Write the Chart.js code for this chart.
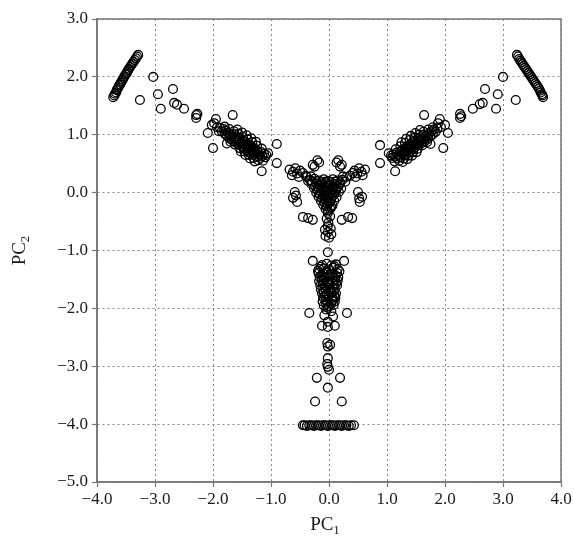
<!DOCTYPE html>
<html>
<head>
<meta charset="utf-8">
<script src="https://cdn.jsdelivr.net/npm/chart.js@4/dist/chart.umd.min.js"></script>
<style>
  body { margin: 0; background: #fff; }
  #wrap { width: 574px; height: 538px; }
</style>
</head>
<body>
<div id="wrap"><canvas id="pcaChart" width="574" height="538"></canvas></div>
<script>
// principal component scores, [PC1, PC2]
let leftLine = [
	[-3.72, 1.65], [-3.70, 1.68], [-3.69, 1.71], [-3.67, 1.73], [-3.66, 1.77], [-3.65, 1.79],
	[-3.63, 1.82], [-3.62, 1.85], [-3.60, 1.87], [-3.59, 1.90], [-3.57, 1.93], [-3.56, 1.95],
	[-3.54, 1.98], [-3.53, 2.01], [-3.51, 2.04], [-3.49, 2.06], [-3.48, 2.09], [-3.46, 2.12],
	[-3.45, 2.14], [-3.43, 2.17], [-3.41, 2.20], [-3.39, 2.23], [-3.37, 2.26], [-3.35, 2.29],
	[-3.33, 2.32], [-3.31, 2.35], [-3.29, 2.38]
];
let rightLine = [
	[3.24, 2.38], [3.26, 2.35], [3.28, 2.31], [3.30, 2.28], [3.32, 2.25], [3.34, 2.22],
	[3.36, 2.19], [3.38, 2.16], [3.40, 2.13], [3.42, 2.10], [3.44, 2.07], [3.46, 2.04],
	[3.48, 2.01], [3.50, 1.98], [3.52, 1.95], [3.54, 1.92], [3.56, 1.89], [3.58, 1.86],
	[3.60, 1.83], [3.62, 1.80], [3.64, 1.76], [3.65, 1.73], [3.67, 1.70], [3.68, 1.68], [3.69, 1.65]
];
let leftArm = [
	[-3.03, 2.00], [-3.26, 1.60], [-2.95, 1.70], [-2.90, 1.45], [-2.69, 1.79], [-2.67, 1.55],
	[-2.62, 1.52], [-2.50, 1.45], [-2.29, 1.34], [-2.29, 1.29], [-2.27, 1.36], [-1.95, 1.27],
	[-1.66, 1.34], [-2.09, 1.03], [-2.00, 0.77], [-2.02, 1.17], [-1.98, 1.20], [-1.93, 1.13],
	[-1.90, 1.06], [-0.90, 0.84], [-0.90, 0.51], [-1.16, 0.37], [-1.05, 0.68],
	[-1.88, 1.12], [-1.85, 1.06], [-1.82, 1.10], [-1.80, 1.02], [-1.78, 1.07], [-1.76, 0.98],
	[-1.74, 1.04], [-1.72, 0.95], [-1.70, 1.00], [-1.69, 0.92], [-1.67, 0.97], [-1.65, 0.89],
	[-1.64, 1.01], [-1.62, 0.93], [-1.60, 0.86], [-1.59, 0.97], [-1.57, 0.90], [-1.55, 0.83],
	[-1.54, 0.94], [-1.52, 0.87], [-1.50, 0.80], [-1.49, 0.91], [-1.47, 0.84], [-1.46, 0.76],
	[-1.45, 0.88], [-1.43, 0.80], [-1.42, 0.73], [-1.41, 0.85], [-1.39, 0.78], [-1.38, 0.70],
	[-1.37, 0.82], [-1.35, 0.75], [-1.34, 0.67], [-1.33, 0.79], [-1.31, 0.72], [-1.30, 0.65],
	[-1.28, 0.76], [-1.27, 0.69], [-1.25, 0.62], [-1.23, 0.72], [-1.21, 0.66], [-1.19, 0.60],
	[-1.17, 0.70], [-1.15, 0.63], [-1.12, 0.67], [-1.10, 0.61], [-1.08, 0.65], [-1.44, 0.82],
	[-1.40, 0.76], [-1.36, 0.78], [-1.48, 0.78], [-1.52, 0.84], [-1.32, 0.70], [-1.60, 0.92],
	[-1.80, 1.14], [-1.72, 1.10], [-1.64, 1.06], [-1.56, 1.01], [-1.48, 0.96], [-1.40, 0.92],
	[-1.32, 0.87], [-1.24, 0.81], [-1.16, 0.76], [-1.70, 0.88], [-1.62, 0.83], [-1.54, 0.77],
	[-1.46, 0.71], [-1.38, 0.65], [-1.30, 0.60], [-1.22, 0.56], [-1.14, 0.55],
	[-1.58, 1.09], [-1.50, 1.04], [-1.42, 0.99], [-1.34, 0.94], [-1.26, 0.88], [-1.52, 0.71],
	[-1.44, 0.65], [-1.36, 0.59], [-1.28, 0.54], [-1.76, 0.85]
];
let rightArm = [
	[3.00, 2.00], [2.69, 1.79], [2.91, 1.70], [3.22, 1.60], [2.88, 1.45], [2.60, 1.53],
	[2.65, 1.55], [2.48, 1.45], [2.26, 1.36], [2.26, 1.29], [2.28, 1.32], [1.64, 1.34],
	[1.91, 1.27], [2.00, 1.17], [2.05, 1.03], [1.97, 0.77], [1.93, 1.13], [1.88, 1.20],
	[0.88, 0.82], [0.88, 0.51], [1.14, 0.37], [1.03, 0.68],
	[1.87, 1.11], [1.84, 1.05], [1.81, 1.09], [1.79, 1.01], [1.77, 1.06], [1.75, 0.97],
	[1.73, 1.03], [1.71, 0.94], [1.69, 0.99], [1.68, 0.91], [1.66, 0.96], [1.64, 0.88],
	[1.63, 1.00], [1.61, 0.92], [1.59, 0.85], [1.58, 0.96], [1.56, 0.89], [1.54, 0.82],
	[1.53, 0.93], [1.51, 0.86], [1.49, 0.79], [1.48, 0.90], [1.46, 0.83], [1.45, 0.75],
	[1.44, 0.87], [1.42, 0.79], [1.41, 0.72], [1.40, 0.84], [1.38, 0.77], [1.37, 0.69],
	[1.36, 0.81], [1.34, 0.74], [1.33, 0.66], [1.32, 0.78], [1.30, 0.71], [1.29, 0.64],
	[1.27, 0.75], [1.26, 0.68], [1.24, 0.61], [1.22, 0.71], [1.20, 0.65], [1.18, 0.59],
	[1.16, 0.69], [1.14, 0.62], [1.11, 0.66], [1.09, 0.60], [1.07, 0.64], [1.43, 0.81],
	[1.39, 0.75], [1.35, 0.77], [1.47, 0.77], [1.51, 0.83], [1.31, 0.69], [1.59, 0.91],
	[1.79, 1.13], [1.71, 1.09], [1.63, 1.05], [1.55, 1.00], [1.47, 0.95], [1.39, 0.91],
	[1.31, 0.86], [1.23, 0.80], [1.15, 0.75], [1.69, 0.87], [1.61, 0.82], [1.53, 0.76],
	[1.45, 0.70], [1.37, 0.64], [1.29, 0.59], [1.21, 0.55], [1.13, 0.54],
	[1.57, 1.08], [1.49, 1.03], [1.41, 0.98], [1.33, 0.93], [1.25, 0.87], [1.51, 0.70],
	[1.43, 0.64], [1.35, 0.58], [1.27, 0.53], [1.75, 0.84]
];
let center = [
	[-0.33, 0.22], [-0.25, 0.24], [-0.17, 0.21], [-0.09, 0.23], [-0.01, 0.20], [0.07, 0.23],
	[0.15, 0.21], [0.23, 0.22], [-0.30, 0.15], [-0.22, 0.16], [-0.14, 0.14], [-0.06, 0.16],
	[0.02, 0.13], [0.10, 0.15], [0.18, 0.14], [-0.26, 0.08], [-0.18, 0.09], [-0.10, 0.07],
	[-0.02, 0.09], [0.06, 0.06], [0.14, 0.08], [0.21, 0.07], [-0.22, 0.00], [-0.14, 0.02],
	[-0.06, -0.01], [0.02, 0.01], [0.10, -0.01], [0.17, 0.01], [-0.18, -0.07], [-0.10, -0.06],
	[-0.02, -0.08], [0.06, -0.06], [0.13, -0.08], [-0.14, -0.14], [-0.06, -0.13], [0.02, -0.15],
	[0.09, -0.14], [-0.10, -0.21], [-0.02, -0.20], [0.06, -0.22], [-0.06, -0.28], [0.02, -0.28],
	[-0.02, -0.35], [-0.45, 0.34], [-0.40, 0.29], [0.41, 0.34], [0.36, 0.29],
	[-0.29, 0.19], [-0.21, 0.20], [-0.13, 0.18], [-0.05, 0.19], [0.03, 0.18], [0.11, 0.19],
	[0.19, 0.18], [-0.24, 0.11], [-0.16, 0.12], [-0.08, 0.11], [0.00, 0.12], [0.08, 0.10],
	[0.16, 0.11], [-0.20, 0.04], [-0.12, 0.05], [-0.04, 0.03], [0.04, 0.04], [0.12, 0.03],
	[-0.16, -0.03], [-0.08, -0.04], [0.00, -0.03], [0.08, -0.04], [-0.12, -0.10], [-0.04, -0.11],
	[0.04, -0.10], [-0.08, -0.17], [0.00, -0.18], [0.04, -0.25], [-0.04, -0.24], [-0.02, -0.31],
	[-0.38, 0.27], [0.30, 0.27], [-0.36, 0.20], [0.28, 0.19], [-0.31, 0.28], [0.24, 0.28],
	[-0.68, 0.40], [-0.62, 0.36], [-0.58, 0.42], [-0.55, 0.33], [-0.50, 0.38], [-0.64, 0.30],
	[-0.52, 0.27], [0.62, 0.40], [0.56, 0.36], [0.52, 0.42], [0.49, 0.33], [0.44, 0.38],
	[0.58, 0.30], [0.46, 0.27], [-0.28, 0.48], [-0.20, 0.56], [-0.25, 0.45], [-0.17, 0.52],
	[0.16, 0.56], [0.22, 0.48], [0.13, 0.52], [0.19, 0.45], [-0.59, 0.01], [-0.55, -0.16],
	[-0.62, -0.09], [-0.57, -0.05], [0.50, 0.01], [0.53, -0.16], [0.57, -0.07], [0.52, -0.10],
	[-0.45, -0.42], [-0.36, -0.44], [-0.28, -0.47], [0.22, -0.47], [0.33, -0.42], [0.40, -0.44],
	[-0.02, -0.58], [0.03, -0.62], [-0.07, -0.64], [-0.02, -0.68], [0.04, -0.72], [-0.06, -0.75],
	[0.00, -0.78], [-0.01, -0.52], [-0.04, -0.45], [0.02, -0.41]
];
let stem = [
	[-0.02, -1.03], [-0.28, -1.18], [0.26, -1.18],
	[-0.12, -1.25], [-0.04, -1.23], [0.04, -1.26], [0.12, -1.24], [-0.17, -1.32], [-0.09, -1.31],
	[-0.01, -1.33], [0.07, -1.30], [0.15, -1.32], [-0.18, -1.39], [-0.10, -1.40], [-0.02, -1.38],
	[0.06, -1.41], [0.14, -1.39], [-0.16, -1.46], [-0.08, -1.47], [0.00, -1.45], [0.08, -1.47],
	[0.16, -1.46], [-0.17, -1.53], [-0.09, -1.52], [-0.01, -1.54], [0.07, -1.53], [0.15, -1.52],
	[-0.15, -1.60], [-0.07, -1.61], [0.01, -1.59], [0.09, -1.61], [0.14, -1.60], [-0.14, -1.67],
	[-0.06, -1.66], [0.02, -1.68], [0.10, -1.67], [-0.12, -1.74], [-0.04, -1.75], [0.04, -1.73],
	[0.12, -1.74], [-0.10, -1.81], [-0.02, -1.80], [0.06, -1.82], [0.11, -1.81], [-0.11, -1.88],
	[-0.03, -1.89], [0.05, -1.87], [0.10, -1.88], [-0.09, -1.95], [0.00, -1.96], [0.08, -1.94],
	[-0.19, -1.35], [0.18, -1.36], [-0.14, -1.28], [0.09, -1.27], [-0.13, -1.43], [0.11, -1.43],
	[-0.12, -1.50], [0.11, -1.50], [-0.11, -1.57], [0.12, -1.57], [-0.10, -1.64], [0.06, -1.64],
	[-0.09, -1.71], [0.08, -1.71], [-0.07, -1.78], [0.09, -1.78], [-0.06, -1.85], [0.07, -1.85],
	[-0.05, -1.92], [0.04, -1.92], [-0.02, -1.99], [0.02, -1.42], [-0.03, -1.57], [0.03, -1.70],
	[-0.34, -2.08], [0.31, -2.08], [-0.05, -2.02], [0.04, -2.05], [-0.08, -2.12], [0.07, -2.14],
	[-0.12, -2.30], [-0.02, -2.32], [0.10, -2.30], [-0.02, -2.23],
	[-0.03, -2.60], [0.02, -2.63], [-0.02, -2.66], [-0.02, -2.86], [-0.03, -2.96], [-0.02, -3.01],
	[0.00, -3.06], [-0.21, -3.20], [0.19, -3.20], [-0.02, -3.37], [-0.24, -3.61], [0.22, -3.61]
];
let bottomLine = [
	[-0.45, -4.02], [-0.42, -4.02], [-0.38, -4.03], [-0.34, -4.02], [-0.30, -4.02], [-0.26, -4.03],
	[-0.22, -4.02], [-0.18, -4.02], [-0.14, -4.03], [-0.10, -4.02], [-0.06, -4.02], [-0.02, -4.03],
	[0.02, -4.02], [0.06, -4.02], [0.10, -4.03], [0.14, -4.02], [0.18, -4.02], [0.22, -4.03],
	[0.26, -4.02], [0.30, -4.02], [0.34, -4.03], [0.38, -4.02], [0.43, -4.02]
];

let xTicks = [-4, -3, -2, -1, 0, 1, 2, 3, 4];
let yTicks = [-5, -4, -3, -2, -1, 0, 1, 2, 3];

let allScores = [].concat(leftLine, rightLine, leftArm, rightArm, center, stem, bottomLine);
let points = allScores.map(function (p) {
	return { x: p[0], y: p[1] };
});

function formatTick(v) {
	return (v < 0 ? '\u2212' : '') + Math.abs(v).toFixed(1);
}

// draws "PC" with a subscript digit, centred on (cx, cy)
function drawSubLabel(ctx, main, sub, cx, cy) {
	ctx.font = '19px "Liberation Serif"';
	let w1 = ctx.measureText(main).width;
	ctx.font = '13px "Liberation Serif"';
	let w2 = ctx.measureText(sub).width;
	let x0 = cx - (w1 + w2) / 2;
	ctx.textBaseline = 'middle';
	ctx.textAlign = 'left';
	ctx.fillStyle = '#1a1a1a';
	ctx.font = '19px "Liberation Serif"';
	ctx.fillText(main, x0, cy);
	ctx.font = '13px "Liberation Serif"';
	ctx.fillText(sub, x0 + w1, cy + 6);
}

let framePlugin = {
	id: 'frame',
	afterDraw(chart) {
		let ctx = chart.ctx;
		let a = chart.chartArea;
		ctx.save();
		ctx.strokeStyle = '#777';
		ctx.lineWidth = 1.5;
		ctx.strokeRect(a.left, a.top, a.right - a.left, a.bottom - a.top);

		drawSubLabel(ctx, 'PC', '1', (a.left + a.right) / 2 - 4, 525);
		ctx.translate(20, (a.top + a.bottom) / 2);
		ctx.rotate(-Math.PI / 2);
		drawSubLabel(ctx, 'PC', '2', 0, 0);
		ctx.restore();
	}
};

let tickFont = { family: '"Liberation Serif"', size: 17 };

let config = {
	type: 'scatter',
	data: {
		datasets: [{
			data: points,
			pointRadius: 4.4,
			pointHoverRadius: 4.4,
			borderColor: '#000',
			borderWidth: 1.3,
			backgroundColor: 'rgba(0,0,0,0)'
		}]
	},
	options: {
		responsive: false,
		animation: false,
		devicePixelRatio: 1,
		layout: { padding: { left: 0, top: 19, right: 13, bottom: 0 } },
		plugins: { legend: { display: false }, tooltip: { enabled: false } },
		scales: {
			x: {
				type: 'linear',
				min: -4,
				max: 4,
				afterBuildTicks: function (scale) {
					scale.ticks = xTicks.map(function (v) { return { value: v }; });
				},
				afterFit: function (scale) { scale.height = 56; },
				ticks: { font: tickFont, color: '#1a1a1a', padding: 2, maxRotation: 0, callback: formatTick },
				grid: { color: '#888', lineWidth: 1, tickLength: 5, tickColor: '#777', tickWidth: 1.2 },
				border: { color: '#777', width: 1.5, dash: [2, 3] }
			},
			y: {
				type: 'linear',
				min: -5,
				max: 3,
				afterBuildTicks: function (scale) {
					scale.ticks = yTicks.map(function (v) { return { value: v }; });
				},
				afterFit: function (scale) { scale.width = 97; },
				ticks: { font: tickFont, color: '#1a1a1a', padding: 4, callback: formatTick },
				grid: { color: '#888', lineWidth: 1, tickLength: 5, tickColor: '#777', tickWidth: 1.2 },
				border: { color: '#777', width: 1.5, dash: [2, 3] }
			}
		}
	},
	plugins: [framePlugin]
};

let chartCanvas = new Chart(document.getElementById('pcaChart').getContext('2d'), config);
</script>
</body>
</html>
